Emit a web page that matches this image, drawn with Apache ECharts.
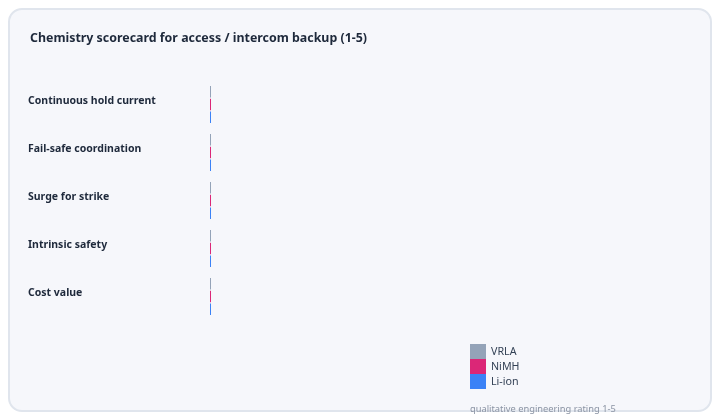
<!DOCTYPE html>
<html>
<head>
<meta charset="utf-8">
<script src="https://cdn.jsdelivr.net/npm/echarts@6/dist/echarts.min.js"></script>
<style>
html,body{margin:0;padding:0;background:#ffffff;}
#c{width:720px;height:420px;}
</style>
</head>
<body>
<div id="c"></div>
<script>
const categories = ["Continuous hold current", "Fail-safe coordination", "Surge for strike", "Intrinsic safety", "Cost value"];
const seriesNames = ["VRLA", "NiMH", "Li-ion"];
const vrla = [0.01, 0.01, 0.01, 0.01, 0.01];
const nimh = [0.01, 0.01, 0.01, 0.01, 0.01];
const liion = [0.01, 0.01, 0.01, 0.01, 0.01];
const colors = ["#94a3b8", "#db2777", "#3b82f6"];
const titleText = "Chemistry scorecard for access / intercom backup (1-5)";
const footnote = "qualitative engineering rating 1-5";

const FONT = "'Noto Sans', sans-serif";
const chart = echarts.init(document.getElementById('c'), null, {renderer: 'canvas'});
const values = [vrla, nimh, liion];
chart.setOption({
  animation: false,
  backgroundColor: '#ffffff',
  textStyle: {fontFamily: FONT},
  graphic: [
    {type: 'rect', z: -10, silent: true,
     shape: {x: 9, y: 9, width: 702, height: 402, r: 13},
     style: {fill: '#f6f7fb', stroke: '#e0e5ed', lineWidth: 2}},
    {type: 'text', z: 100, left: 470, top: 405,
     style: {text: footnote, fill: '#8a93a3', font: "9.3px " + FONT}}
  ],
  title: {
    text: titleText, left: 25, top: 27,
    textStyle: {fontSize: 12.4, fontWeight: 'bold', color: '#1e293b', fontFamily: FONT}
  },
  legend: {
    orient: 'vertical', left: 465, top: 339,
    itemWidth: 16, itemHeight: 15, itemGap: 0,
    icon: 'rect',
    data: seriesNames,
    textStyle: {fontSize: 10.7, color: '#334155', fontFamily: FONT}
  },
  grid: {left: 210, right: 10, top: 80.5, height: 240, containLabel: false},
  xAxis: {type: 'value', min: 0, max: 5, show: false},
  yAxis: {
    type: 'category', inverse: true, data: categories,
    axisLine: {show: false}, axisTick: {show: false}, splitLine: {show: false},
    axisLabel: {align: 'left', margin: 182, fontSize: 10.5, fontWeight: 'bold', color: '#1e293b',
      fontFamily: FONT, verticalAlign: 'bottom', lineHeight: 6}
  },
  series: seriesNames.map((n, i) => ({
    name: n, type: 'bar', data: values[i],
    itemStyle: {color: colors[i]}
  }))
});
</script>
</body>
</html>
